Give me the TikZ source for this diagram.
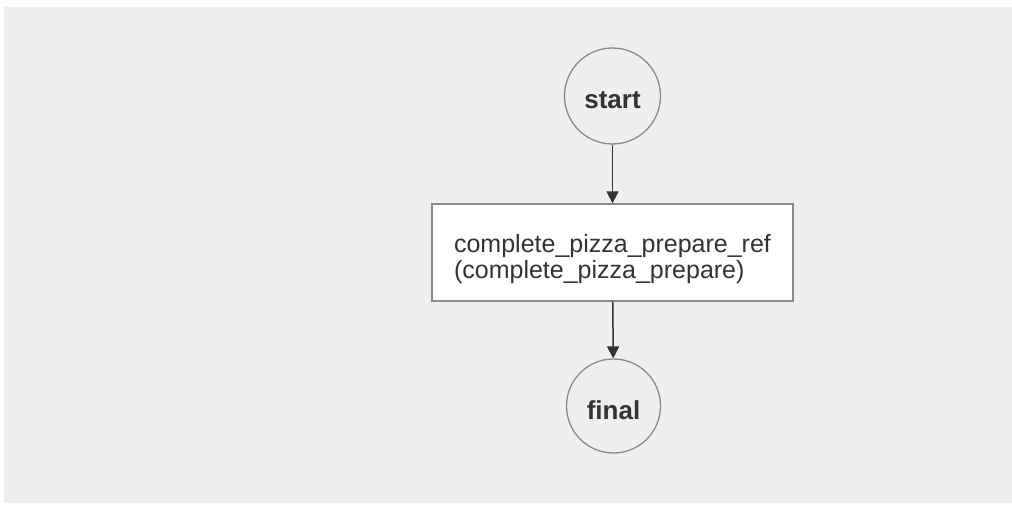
\documentclass[tikz,border=0pt]{standalone}
\usepackage{fontspec}
\setmainfont{Liberation Sans}
\usetikzlibrary{arrows.meta}
\definecolor{bg}{HTML}{EFEFEF}
\definecolor{edgegray}{HTML}{8A8A8A}
\definecolor{txt}{HTML}{333333}
\tikzset{
  statenode/.style={circle, draw=edgegray, line width=1.3pt, fill=bg, minimum size=96pt, inner sep=0pt, text=txt, text height=26pt, text depth=0pt, font=\fontsize{26}{28}\selectfont\bfseries},
  taskbox/.style={rectangle, draw=edgegray, line width=1.3pt, fill=white, minimum width=361pt, minimum height=97pt, inner sep=0pt, text=txt, align=left, text height=51pt, text depth=0pt, font=\fontsize{25}{26}\selectfont},
  flow/.style={draw=txt, line width=1.5pt, -{Triangle[length=12pt,width=12pt]}}
}
\begin{document}
\begin{tikzpicture}[x=1pt,y=-1pt]
\useasboundingbox (0,0) rectangle (1012,505);
\fill[white] (0,0) rectangle (1012,505);
\fill[bg] (4,7) rectangle (1012,503);
\node[statenode] (start) at (612.5,96) {start};
\node[taskbox] (task) at (612.5,252.5) {complete\_pizza\_prepare\_ref\\(complete\_pizza\_prepare)};
\node[statenode, minimum size=94pt] (final) at (613.5,406) {final};
\draw[flow] (start) -- (task);
\draw[flow] (task) -- (final);
\end{tikzpicture}
\end{document}
